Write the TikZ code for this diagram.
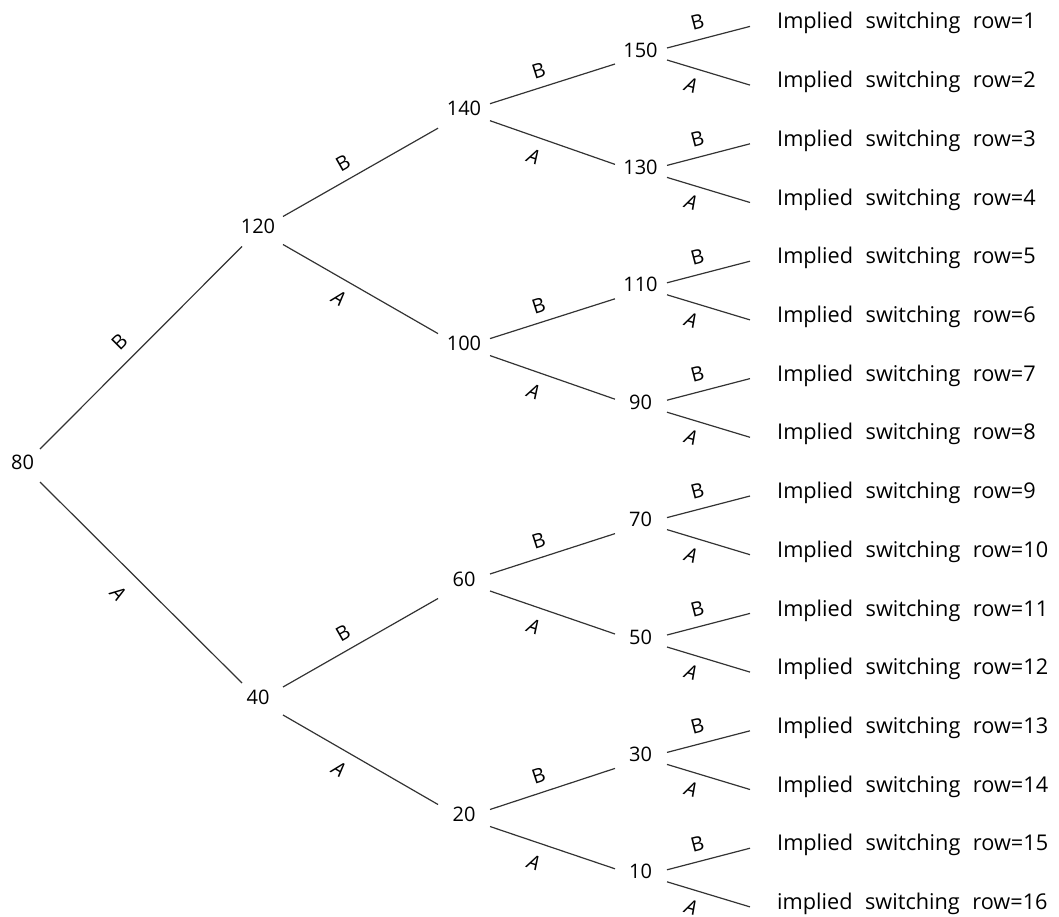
\documentclass[tikz,border=0pt]{standalone}
\usepackage{fontspec}
\setmainfont{Open Sans}
\begin{document}
\begin{tikzpicture}[x=1pt, y=-1pt,
  font=\fontsize{20}{24}\selectfont,
  val/.style={inner sep=0pt, anchor=center},
  leaf/.style={inner sep=0pt, anchor=base west,
    font=\fontsize{21.7}{25}\selectfont,
    execute at begin node={\spaceskip=12.5pt\relax}},
  branch/.style={draw=black!80, line width=1.2pt},
  lblB/.style={sloped, inner sep=0pt},
  lblA/.style={sloped, inner sep=0pt, font=\fontsize{20}{24}\selectfont\itshape}]
\useasboundingbox (0,0) rectangle (1059,917);

% values, root to the last column
\node[val] (a0) at (22.5,462) {80};
\node[val] (b0) at (258,226.5) {120};
\node[val] (b1) at (258,697) {40};
\node[val] (c0) at (464,108.7) {140};
\node[val] (c1) at (464,343.6) {100};
\node[val] (c2) at (464,579) {60};
\node[val] (c3) at (464,814.5) {20};
\node[val] (d0) at (640.5,50) {150};
\node[val] (d1) at (640.5,167.4) {130};
\node[val] (d2) at (640.5,284.8) {110};
\node[val] (d3) at (640.5,402.2) {90};
\node[val] (d4) at (640.5,519.6) {70};
\node[val] (d5) at (640.5,637) {50};
\node[val] (d6) at (640.5,754.4) {30};
\node[val] (d7) at (640.5,871.8) {10};

% outcome rows
\foreach \k in {1,...,15} {
  \node[leaf] (r\k) at (777, {21.3 + 58.7*(\k-1) + 7.7}) {Implied switching row=\k};
}
\node[leaf] (r16) at (777, {21.3 + 58.7*15 + 7.7}) {implied switching row=16};

% root branches
\draw[branch] ([shift={(17.5,-13)}]a0.center) -- node[lblB, pos=0.46, above=11.5pt]{B} ([shift={(-16,20)}]b0.center);
\draw[branch] ([shift={(17.5,20)}]a0.center) -- node[lblA, pos=0.47, below=16pt]{A} ([shift={(-16,-14)}]b1.center);

% second column branches
\foreach \p/\u/\d in {b0/c0/c1, b1/c2/c3} {
  \draw[branch] ([shift={(25,-10)}]\p.center) -- node[lblB, pos=0.44, above=9pt]{B} ([shift={(-26,19.5)}]\u.center);
  \draw[branch] ([shift={(25,18)}]\p.center) -- node[lblA, pos=0.42, below=11pt]{A} ([shift={(-26,-10)}]\d.center);
}

% third column branches
\foreach \p/\u/\d in {c0/d0/d1, c1/d2/d3, c2/d4/d5, c3/d6/d7} {
  \draw[branch] ([shift={(26,-5)}]\p.center) -- node[lblB, pos=0.43, above=9pt]{B} ([shift={(-25.5,14)}]\u.center);
  \draw[branch] ([shift={(26,12)}]\p.center) -- node[lblA, pos=0.4, below=12pt]{A} ([shift={(-25.5,-3)}]\d.center);
}

% last column to the outcome rows
\foreach \j in {0,...,7} {
  \pgfmathtruncatemacro\u{2*\j+1}
  \pgfmathtruncatemacro\d{2*\j+2}
  \draw[branch] ([shift={(26.5,-2)}]d\j.center) -- node[lblB, pos=0.42, above=10pt]{B} ([shift={(-27,-2.6)}]r\u.base west);
  \draw[branch] ([shift={(26.5,10)}]d\j.center) -- node[lblA, pos=0.35, below=9.5pt]{A} ([shift={(-27,-2.6)}]r\d.base west);
}
\end{tikzpicture}
\end{document}
